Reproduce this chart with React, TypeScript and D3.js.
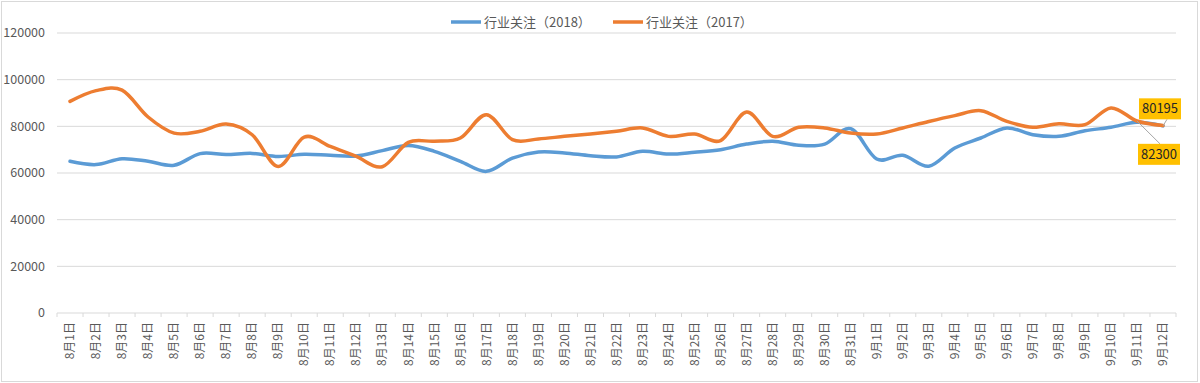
import React from "react";
import * as d3 from "d3";

const categories: string[] = [
  ...Array.from({ length: 31 }, (_, i) => `8月${i + 1}日`),
  ...Array.from({ length: 12 }, (_, i) => `9月${i + 1}日`),
];

const series2018: number[] = [
  65000, 63600, 66100, 65000, 63300, 68300, 67900, 68400, 67100, 68000,
  67600, 67300, 69600, 71800, 69300, 65000, 60700, 66400, 69000, 68600,
  67400, 66900, 69300, 68100, 68900, 70000, 72400, 73600, 71900, 72400,
  79000, 66000, 67600, 62900, 70700, 75000, 79300, 76400, 75700, 78100,
  79600, 81700, 80195,
];

const series2017: number[] = [
  90700, 95300, 95500, 84000, 77100, 77900, 81000, 76400, 62800, 75400,
  71400, 67100, 62700, 73100, 73600, 75000, 85000, 74300, 74600, 75700,
  76700, 77900, 79300, 75700, 76700, 73900, 86100, 75700, 79600, 79300,
  77100, 76700, 79300, 82100, 84600, 86700, 82100, 79600, 81100, 80700,
  87900, 82300, 80400,
];

const yTicks: number[] = [0, 20000, 40000, 60000, 80000, 100000, 120000];
const legendNames: string[] = ["行业关注（2018）", "行业关注（2017）"];
const colors: string[] = ["#5B9BD5", "#ED7D31"];

export default function App() {
  const W = 1200;
  const H = 383;
  const left = 57;
  const right = 1176;
  const top = 33;
  const bottom = 313;
  const font = "'Microsoft YaHei', 'Noto Sans CJK SC', 'Noto Sans', sans-serif";

  const x = d3.scaleBand<string>().domain(categories).range([left, right]).padding(0);
  const y = d3.scaleLinear().domain([0, 120000]).range([bottom, top]);
  const cx = (i: number) => (x(categories[i]) as number) + x.bandwidth() / 2;

  const line = d3
    .line<number>()
    .x((_, i) => cx(i))
    .y((d) => y(d))
    .curve(d3.curveCatmullRom.alpha(0));

  const boundaries = categories.map((c) => x(c) as number).concat([right]);

  // data labels
  const lab1 = { i: 42, v: series2018[42], text: "80195" };
  const lab2 = { i: 41, v: series2017[41], text: "82300" };
  const boxW = 42;
  const boxH = 21;
  const box1x = 1139, box1y = y(92000);
  const box2x = 1138, box2y = y(72500);

  return (
    <svg
      width={W}
      height={H}
      style={{ position: "absolute", left: 0, top: 0, background: "#fff" }}
      fontFamily={font}
    >
      <rect x={1.5} y={1.5} width={W - 4} height={H - 3} fill="#fff" stroke="#d9d9d9" />
      {yTicks.map((t) => (
        <g key={t}>
          <line x1={left} x2={right} y1={y(t)} y2={y(t)} stroke="#d9d9d9" strokeWidth={1} />
          <text x={45} y={y(t)} dy="0.35em" textAnchor="end" fontSize={12.5} fill="#595959">
            {t}
          </text>
        </g>
      ))}
      {boundaries.map((b, i) => (
        <line key={i} x1={b} x2={b} y1={bottom} y2={bottom + 4} stroke="#d9d9d9" />
      ))}
      {categories.map((c, i) => (
        <text
          key={c}
          transform={`translate(${cx(i)},${bottom + 9}) rotate(-90)`}
          textAnchor="end"
          dy="0.35em"
          fontSize={12}
          fill="#595959"
        >
          {c}
        </text>
      ))}
      <path d={line(series2018) || ""} fill="none" stroke={colors[0]} strokeWidth={3.5} strokeLinecap="round" />
      <path d={line(series2017) || ""} fill="none" stroke={colors[1]} strokeWidth={3.5} strokeLinecap="round" />

      {/* leader lines */}
      <line x1={box1x + 28} y1={box1y + boxH} x2={cx(lab1.i)} y2={y(lab1.v)} stroke="#a6a6a6" strokeWidth={1} />
      <line x1={box2x + 22} y1={box2y} x2={cx(lab2.i)} y2={y(lab2.v)} stroke="#a6a6a6" strokeWidth={1} />
      <rect x={box1x} y={box1y} width={boxW} height={boxH} fill="#FFC000" />
      <text x={box1x + boxW / 2} y={box1y + boxH / 2} dy="0.35em" textAnchor="middle" fontSize={13} fill="#262626">
        {lab1.text}
      </text>
      <rect x={box2x} y={box2y} width={boxW} height={boxH} fill="#FFC000" />
      <text x={box2x + boxW / 2} y={box2y + boxH / 2} dy="0.35em" textAnchor="middle" fontSize={13} fill="#262626">
        {lab2.text}
      </text>

      {/* legend */}
      {legendNames.map((n, i) => {
        const lx = i === 0 ? 451 : 613;
        return (
          <g key={n}>
            <line x1={lx} x2={lx + 30} y1={22} y2={22} stroke={colors[i]} strokeWidth={3.5} />
            <text x={lx + 33} y={22} dy="0.35em" fontSize={13} fill="#595959">
              {n}
            </text>
          </g>
        );
      })}
    </svg>
  );
}
